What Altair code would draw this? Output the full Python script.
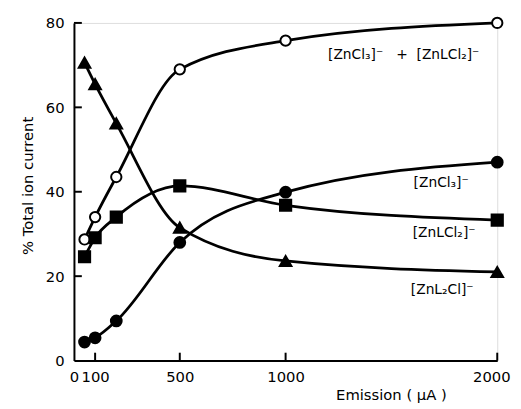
import altair as alt
import pandas as pd

emission = [50, 100, 200, 500, 1000, 2000]
total = [28.7, 34.0, 43.5, 69.0, 75.8, 80.0]
zncl3 = [4.4, 5.4, 9.4, 28.0, 39.9, 47.0]
znlcl2 = [24.6, 29.1, 34.0, 41.4, 36.8, 33.3]
znl2cl = [70.6, 65.5, 56.2, 31.5, 23.6, 21.0]

series_names = ["total", "zncl3", "znlcl2", "znl2cl"]
series_shapes = ["circle", "circle", "square", "triangle-up"]
series_fills = ["white", "black", "black", "black"]

label_texts = ["[ZnCl\u2083]\u207b\u00a0\u00a0\u00a0+\u00a0\u00a0[ZnLCl\u2082]\u207b", "[ZnCl\u2083]\u207b", "[ZnLCl\u2082]\u207b", "[ZnL\u2082Cl]\u207b"]
label_x = [1558, 1735, 1749, 1740]
label_y = [72.5, 42.0, 30.3, 16.6]

x_ticks = [0, 100, 500, 1000, 2000]
y_ticks = [0, 20, 40, 60, 80]

rows = []
for name, vals in zip(series_names, [total, zncl3, znlcl2, znl2cl]):
    for e, v in zip(emission, vals):
        rows.append({"x": e, "y": v, "series": name})
df = pd.DataFrame(rows)
labels = pd.DataFrame({"x": label_x, "y": label_y, "text": label_texts})
xt = pd.DataFrame({"x": [t for t in x_ticks if t > 0]})
yt = pd.DataFrame({"y": [t for t in y_ticks if t > 0]})

FONT = "DejaVu Sans"

X = alt.X("x:Q", scale=alt.Scale(domain=[0, 2000], nice=False, zero=False),
          axis=alt.Axis(values=x_ticks, format="d", title="Emission  ( \u03bcA )", grid=False,
                        ticks=False, tickSize=0, labelPadding=9, labelFontSize=15,
                        labelFont=FONT, labelColor="black", domainColor="black",
                        domainWidth=2, titleFont=FONT, titleFontSize=15,
                        titleFontWeight="normal", titleColor="black",
                        titleX=322, titleY=28, titleAlign="center",
                        titleBaseline="top", labelFlush=False,
                        labelAlign={"condition": {"test": "datum.value == 2000", "value": "right"}, "value": "center"},
                        labelOffset={"condition": {"test": "datum.value == 2000", "value": 13}, "value": 0}))
Y = alt.Y("y:Q", scale=alt.Scale(domain=[0, 80], nice=False),
          axis=alt.Axis(values=y_ticks, format="d", title="% Total  ion current", grid=False,
                        ticks=False, tickSize=0, labelPadding=10, labelFontSize=15,
                        labelFont=FONT, labelColor="black", domainColor="black",
                        domainWidth=2, titleFont=FONT, titleFontSize=15,
                        titleFontWeight="normal", titleColor="black",
                        titleX=-47, titleY=165, titleAngle=270,
                        titleAlign="center", titleBaseline="middle"))

lines = alt.Chart(df).mark_line(interpolate="monotone", color="black",
                                strokeWidth=2.8).encode(x=X, y=Y, detail="series:N")

points = alt.Chart(df).mark_point(filled=True, stroke="black", strokeWidth=2,
                                  opacity=1).encode(
    x=X, y=Y,
    shape=alt.Shape("series:N", scale=alt.Scale(domain=series_names, range=series_shapes), legend=None),
    fill=alt.Fill("series:N", scale=alt.Scale(domain=series_names, range=series_fills), legend=None),
    size=alt.Size("series:N", scale=alt.Scale(domain=series_names, range=[110, 140, 130, 150]), legend=None),
)

text = alt.Chart(labels).mark_text(font=FONT, fontSize=14, color="black").encode(
    x=X, y=Y, text="text:N")

xtick = alt.Chart(xt).mark_rule(color="black", strokeWidth=2).encode(
    x=X, y=alt.value(343), y2=alt.value(335))
ytick = alt.Chart(yt).mark_rule(color="black", strokeWidth=2).encode(
    y=Y, x=alt.value(0), x2=alt.value(8))

chart = alt.layer(lines, points, text, xtick, ytick).properties(
    width=430, height=343,
    autosize=alt.AutoSizeParams(type="none"),
    padding={"left": 67, "top": 12, "right": 16, "bottom": 45},
).configure_view(stroke=None).configure(background="white")

chart.save("out.html", embed_options={"renderer": "svg", "actions": False})
